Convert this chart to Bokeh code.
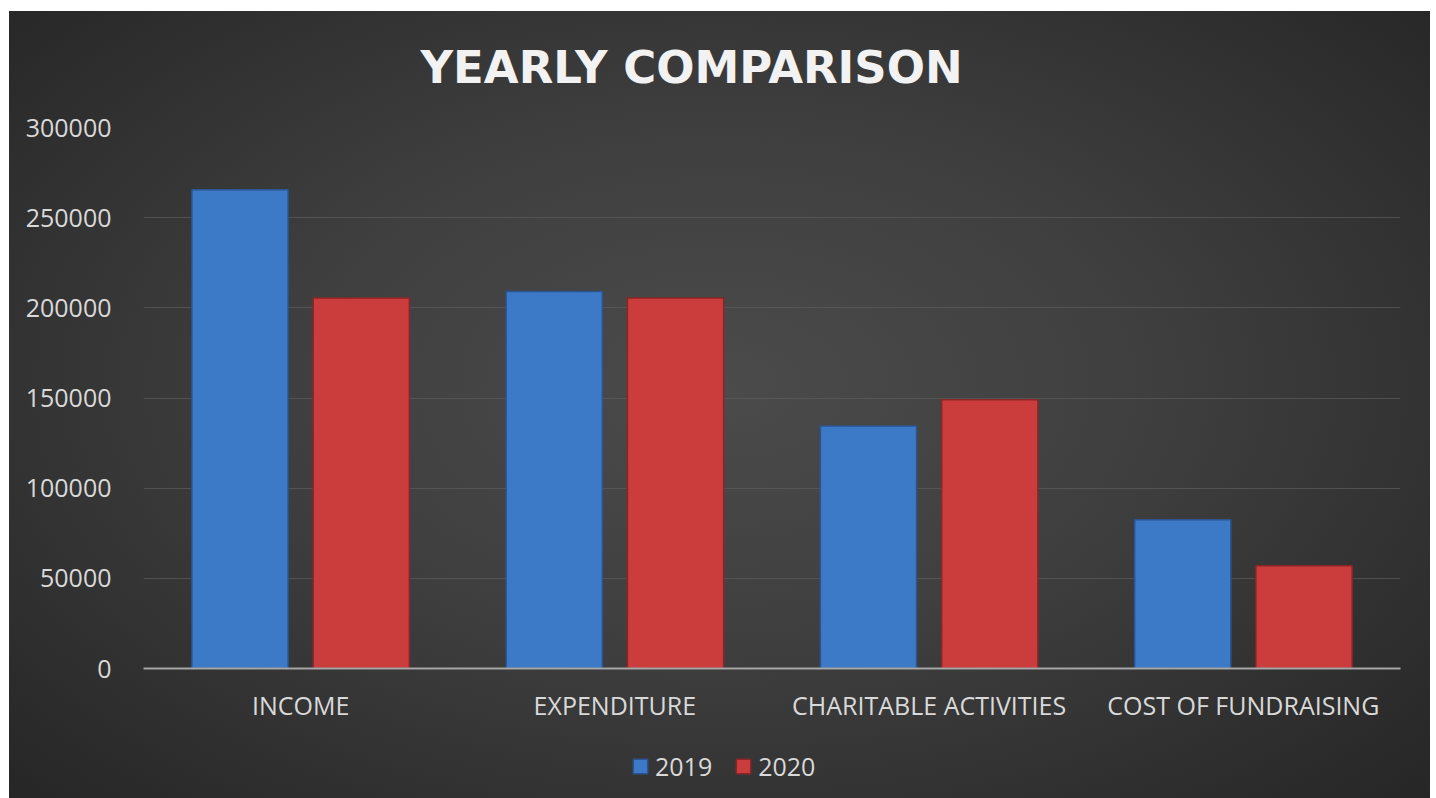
from bokeh.plotting import figure
from bokeh.models import (ColumnDataSource, FactorRange, Range1d, Legend, LegendItem,
                          NumeralTickFormatter)
from bokeh.layouts import column
from bokeh.transform import dodge
from bokeh.embed import file_html
from bokeh.resources import INLINE

categories = ["INCOME", "EXPENDITURE", "CHARITABLE ACTIVITIES", "COST OF FUNDRAISING"]
series_names = ["2019", "2020"]
values_2019 = [265500, 209000, 134500, 82500]
values_2020 = [205500, 205500, 149000, 57000]
y_ticks = [0, 50000, 100000, 150000, 200000, 250000, 300000]

FONT = "Open Sans"
LABEL_COLOR = "#d9d9d9"
BLUE, BLUE_EDGE = "#3c7ac8", "#2a5590"
RED, RED_EDGE = "#cb3d3d", "#8c2626"

source = ColumnDataSource(dict(cat=categories, v2019=values_2019, v2020=values_2020))

p = figure(
    x_range=FactorRange(*categories, range_padding=0),
    y_range=Range1d(0, 300000),
    width=1421, height=741,
    output_backend="svg", toolbar_location=None,
    min_border_left=134, min_border_right=30, min_border_top=0, min_border_bottom=78,
)
p.background_fill_alpha = 0
p.border_fill_alpha = 0
p.outline_line_color = None

p.title.text = "YEARLY COMPARISON"
p.title.align = "left"
p.title.offset = 277
p.title.text_font = "DejaVu Sans"
p.title.text_font_style = "bold"
p.title.text_font_size = "45px"
p.title.text_color = "#f2f2f2"
p.title.standoff = 67

w = 0.306
off = 0.193
r1 = p.vbar(x=dodge("cat", -off, range=p.x_range), top="v2019", width=w, source=source,
            fill_color=BLUE, line_color=BLUE_EDGE, line_width=1.5)
r2 = p.vbar(x=dodge("cat", off, range=p.x_range), top="v2020", width=w, source=source,
            fill_color=RED, line_color=RED_EDGE, line_width=1.5)

# axes
p.yaxis.ticker = y_ticks
p.yaxis.formatter = NumeralTickFormatter(format="0")
p.yaxis.axis_line_color = None
p.yaxis.major_tick_line_color = None
p.yaxis.minor_tick_line_color = None
p.yaxis.major_label_standoff = 26
p.yaxis.major_label_text_font = FONT
p.yaxis.major_label_text_font_size = "25px"
p.yaxis.major_label_text_color = LABEL_COLOR

p.xaxis.axis_line_color = "#a6a6a6"
p.xaxis.axis_line_width = 2
p.xaxis.major_tick_line_color = None
p.xaxis.minor_tick_line_color = None
p.xaxis.major_label_standoff = 13
p.xaxis.major_label_text_font = FONT
p.xaxis.major_label_text_font_size = "25px"
p.xaxis.major_label_text_color = LABEL_COLOR

p.xgrid.grid_line_color = None
p.ygrid.grid_line_color = "#5c5c5c"
p.ygrid.grid_line_alpha = 0.7
p.ygrid.grid_line_width = 1

# legend strip below the chart (hidden copies of the series provide the legend swatches)
p2 = figure(width=1421, height=52, x_range=FactorRange(*categories, range_padding=0),
            y_range=Range1d(0, 300000),
            output_backend="svg", toolbar_location=None,
            x_axis_location=None, y_axis_location=None,
            min_border_left=0, min_border_right=0, min_border_top=0, min_border_bottom=0)
p2.background_fill_alpha = 0
p2.border_fill_alpha = 0
p2.outline_line_color = None
p2.grid.visible = False
lr1 = p2.vbar(x=dodge("cat", -off, range=p2.x_range), top="v2019", width=w, source=source,
              fill_color=BLUE, line_color=BLUE_EDGE, line_width=1.5, visible=False)
lr2 = p2.vbar(x=dodge("cat", off, range=p2.x_range), top="v2020", width=w, source=source,
              fill_color=RED, line_color=RED_EDGE, line_width=1.5, visible=False)
legend = Legend(items=[LegendItem(label=series_names[0], renderers=[lr1]),
                       LegendItem(label=series_names[1], renderers=[lr2])],
                orientation="horizontal", location=(488, 15),
                background_fill_alpha=0, border_line_color=None,
                inactive_fill_alpha=0,
                label_text_font=FONT, label_text_font_size="25px", label_text_color=LABEL_COLOR,
                glyph_width=18, glyph_height=18, spacing=22, label_standoff=6,
                margin=0, padding=0)
p2.add_layout(legend, "center")

layout = column(p, p2, spacing=0)
layout.styles = {
    "margin-left": "9px", "margin-top": "5px",
    "background": ("linear-gradient(#ffffff, #ffffff) top left / 100% 6px no-repeat, "
                   "radial-gradient(ellipse 75% 80% at 50% 48%, #4b4b4b 0%, #3f3f3f 40%, "
                   "#2c2c2c 80%, #232323 100%)"),
}

open("out.html", "w").write(file_html(layout, INLINE))
